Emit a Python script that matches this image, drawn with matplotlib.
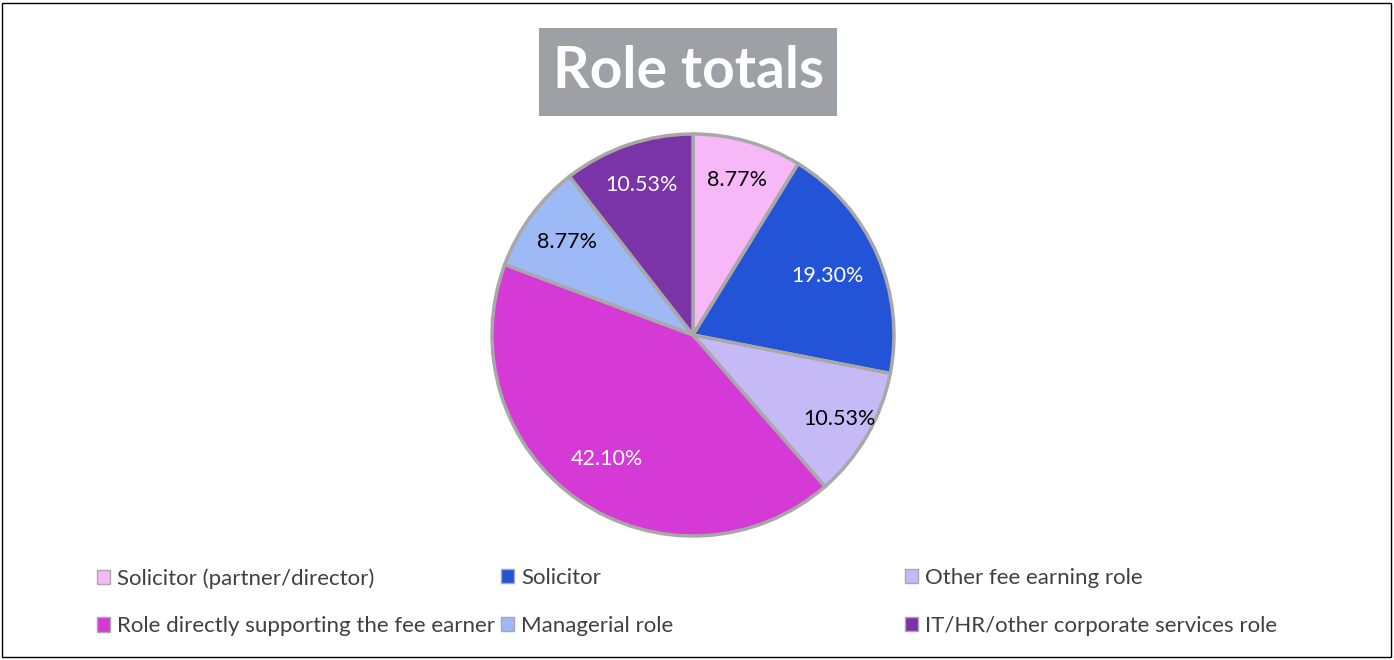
import numpy as np
import matplotlib.pyplot as plt
from matplotlib.patches import Rectangle

W, H = 1394, 660

roles = ["Solicitor (partner/director)", "Solicitor", "Other fee earning role",
         "Role directly supporting the fee earner", "Managerial role",
         "IT/HR/other corporate services role"]
shares = [8.77, 19.30, 10.53, 42.10, 8.77, 10.53]
colors = ["#f6b8f6", "#2353d6", "#c6baf6", "#d63ad6", "#9db9f6", "#7a34a8"]
label_colors = ["black", "white", "black", "white", "black", "white"]
# radial position of each data label (fraction of radius), as Excel placed them
label_dist = [0.80, 0.73, 0.84, 0.75, 0.78, 0.79]

plt.rcParams["font.family"] = ["Lato", "DejaVu Sans"]

fig = plt.figure(figsize=(W / 100, H / 100), dpi=100)

# outer frame
fig.patches.append(Rectangle((2 / W, 3 / H), 1389 / W, 654 / H, transform=fig.transFigure,
                             fill=False, edgecolor="black", linewidth=1))

# title box
fig.patches.append(Rectangle((539 / W, 1 - 116 / H), 298 / W, 88 / H, transform=fig.transFigure,
                             facecolor="#9fa0a6", edgecolor="none"))
fig.text(689 / W, 1 - 71 / H, "Role totals", ha="center", va="center",
         color="white", fontsize=41, fontweight="bold")

# pie: centre (693, 335) px, radius 203 px
cx, cy, r = 693, 335, 203
ax = fig.add_axes([(cx - r) / W, (H - cy - r) / H, 2 * r / W, 2 * r / H])
wedges, texts = ax.pie(shares, colors=colors, startangle=90, counterclock=False,
                       radius=1, wedgeprops=dict(edgecolor="#a8a8a8", linewidth=2.5))
ax.set_xlim(-1.01, 1.01)
ax.set_ylim(-1.01, 1.01)
ax.set_aspect("equal")
ax.axis("off")

start = 90.0
for v, c, d in zip(shares, label_colors, label_dist):
    ang = np.deg2rad(start - v / 100 * 360 / 2)
    start -= v / 100 * 360
    ax.text(d * np.cos(ang), d * np.sin(ang), f"{v:.2f}%", ha="center", va="center",
            color=c, fontsize=15.5)

# legend, laid out row-wise in three fixed columns like Excel
col_x = [97, 501, 905]
for k in range(3):
    idx = [k, k + 3]
    leg = fig.legend([wedges[i] for i in idx], [roles[i] for i in idx],
                     loc="upper left", bbox_to_anchor=(col_x[k] / W, 1 - 568 / H),
                     frameon=False, fontsize=16, handlelength=0.6, handleheight=0.6,
                     handletextpad=0.3, labelspacing=1.25, borderpad=0, borderaxespad=0)
    for t in leg.get_texts():
        t.set_color("#404040")
    for hnd in leg.legend_handles:
        hnd.set_edgecolor("#a8a8a8")
        hnd.set_linewidth(1)

fig.savefig("out.png", dpi=100)
